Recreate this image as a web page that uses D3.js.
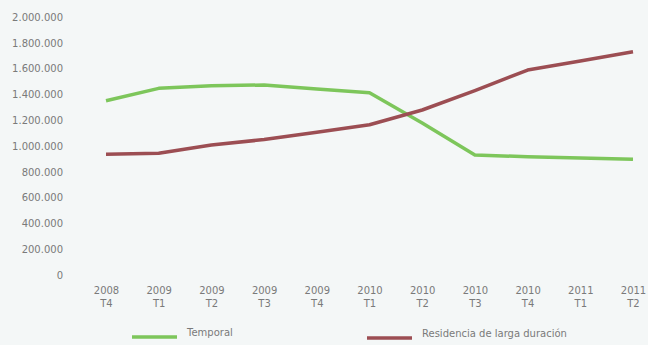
<!DOCTYPE html>
<html>
<head>
<meta charset="utf-8">
<script src="https://cdn.jsdelivr.net/npm/d3@7/dist/d3.min.js"></script>
<style>
  html, body { margin: 0; padding: 0; background: #f4f7f7; }
  svg { display: block; }
  text { font-family: "DejaVu Sans", sans-serif; fill: #7a7a7a; }
</style>
</head>
<body>
<svg id="chart" width="648" height="345"></svg>
<script>
// Quarters shown on the horizontal axis (year / quarter)
const years    = ["2008", "2009", "2009", "2009", "2009", "2010", "2010", "2010", "2010", "2011", "2011"];
const quarters = ["T4",   "T1",   "T2",   "T3",   "T4",   "T1",   "T2",   "T3",   "T4",   "T1",   "T2"];

// Series values (people)
const temporal    = [1351000, 1447000, 1467000, 1473000, 1442000, 1413000, 1178000, 930000, 917000, 907000, 897000];
const residencia  = [ 936000,  943000, 1008000, 1050000, 1106000, 1165000, 1279000, 1430000, 1589000, 1659000, 1731000];

const seriesNames  = ["Temporal", "Residencia de larga duración"];
const seriesColors = ["#7dc65b", "#9c4e53"];

const yTicks = [0, 200000, 400000, 600000, 800000, 1000000, 1200000, 1400000, 1600000, 1800000, 2000000];

const svg = d3.select("#chart");

const x = d3.scalePoint()
  .domain(d3.range(years.length))
  .range([106, 633]);

const y = d3.scaleLinear()
  .domain([0, 2000000])
  .range([275, 17]);

// Spanish-style thousands separator
const fmt = d3.formatLocale({ decimal: ",", thousands: ".", grouping: [3], currency: ["", "€"] }).format(",d");

const labelStyle = sel => sel
  .style("font-size", "10px")
  .attr("fill", "#7a7a7a")
  .style("font-family", "'DejaVu Sans', sans-serif");

// Y axis labels
const yAxis = d3.axisLeft(y).tickValues(yTicks).tickFormat(fmt).tickSize(0).tickPadding(0);
const yg = svg.append("g").attr("transform", "translate(63,0)").call(yAxis);
yg.select(".domain").remove();
yg.selectAll("text").call(labelStyle);

// X axis labels (two lines)
const xAxis = d3.axisBottom(x).tickSize(0).tickFormat(() => "");
const xg = svg.append("g").attr("transform", "translate(0,285)").call(xAxis);
xg.select(".domain").remove();
xg.selectAll(".tick").each(function(d) {
  const t = d3.select(this).select("text")
    .attr("y", 0).attr("dy", null)
    .call(labelStyle);
  t.append("tspan").attr("x", 0).attr("dy", "0.85em").text(years[d]);
  t.append("tspan").attr("x", 0).attr("dy", "1.35em").text(quarters[d]);
});

// Lines
const line = d3.line()
  .x((d, i) => x(i))
  .y(d => y(d));

[temporal, residencia].forEach((vals, k) => {
  svg.append("path")
    .datum(vals)
    .attr("fill", "none")
    .attr("stroke", seriesColors[k])
    .attr("stroke-width", 3.5)
    .attr("stroke-linejoin", "round")
    .attr("d", line);
});

// Legend
const legendPos = [{ x: 132, y: 337 }, { x: 367, y: 338 }];
seriesNames.forEach((name, k) => {
  const g = svg.append("g").attr("transform", `translate(${legendPos[k].x},${legendPos[k].y})`);
  g.append("line").attr("x1", 0).attr("x2", 45).attr("y1", 0).attr("y2", 0)
    .attr("stroke", seriesColors[k]).attr("stroke-width", 3.5);
  g.append("text").attr("x", 55).attr("y", 0).attr("dy", "-0.1em")
    .call(labelStyle).text(name);
});
</script>
</body>
</html>
